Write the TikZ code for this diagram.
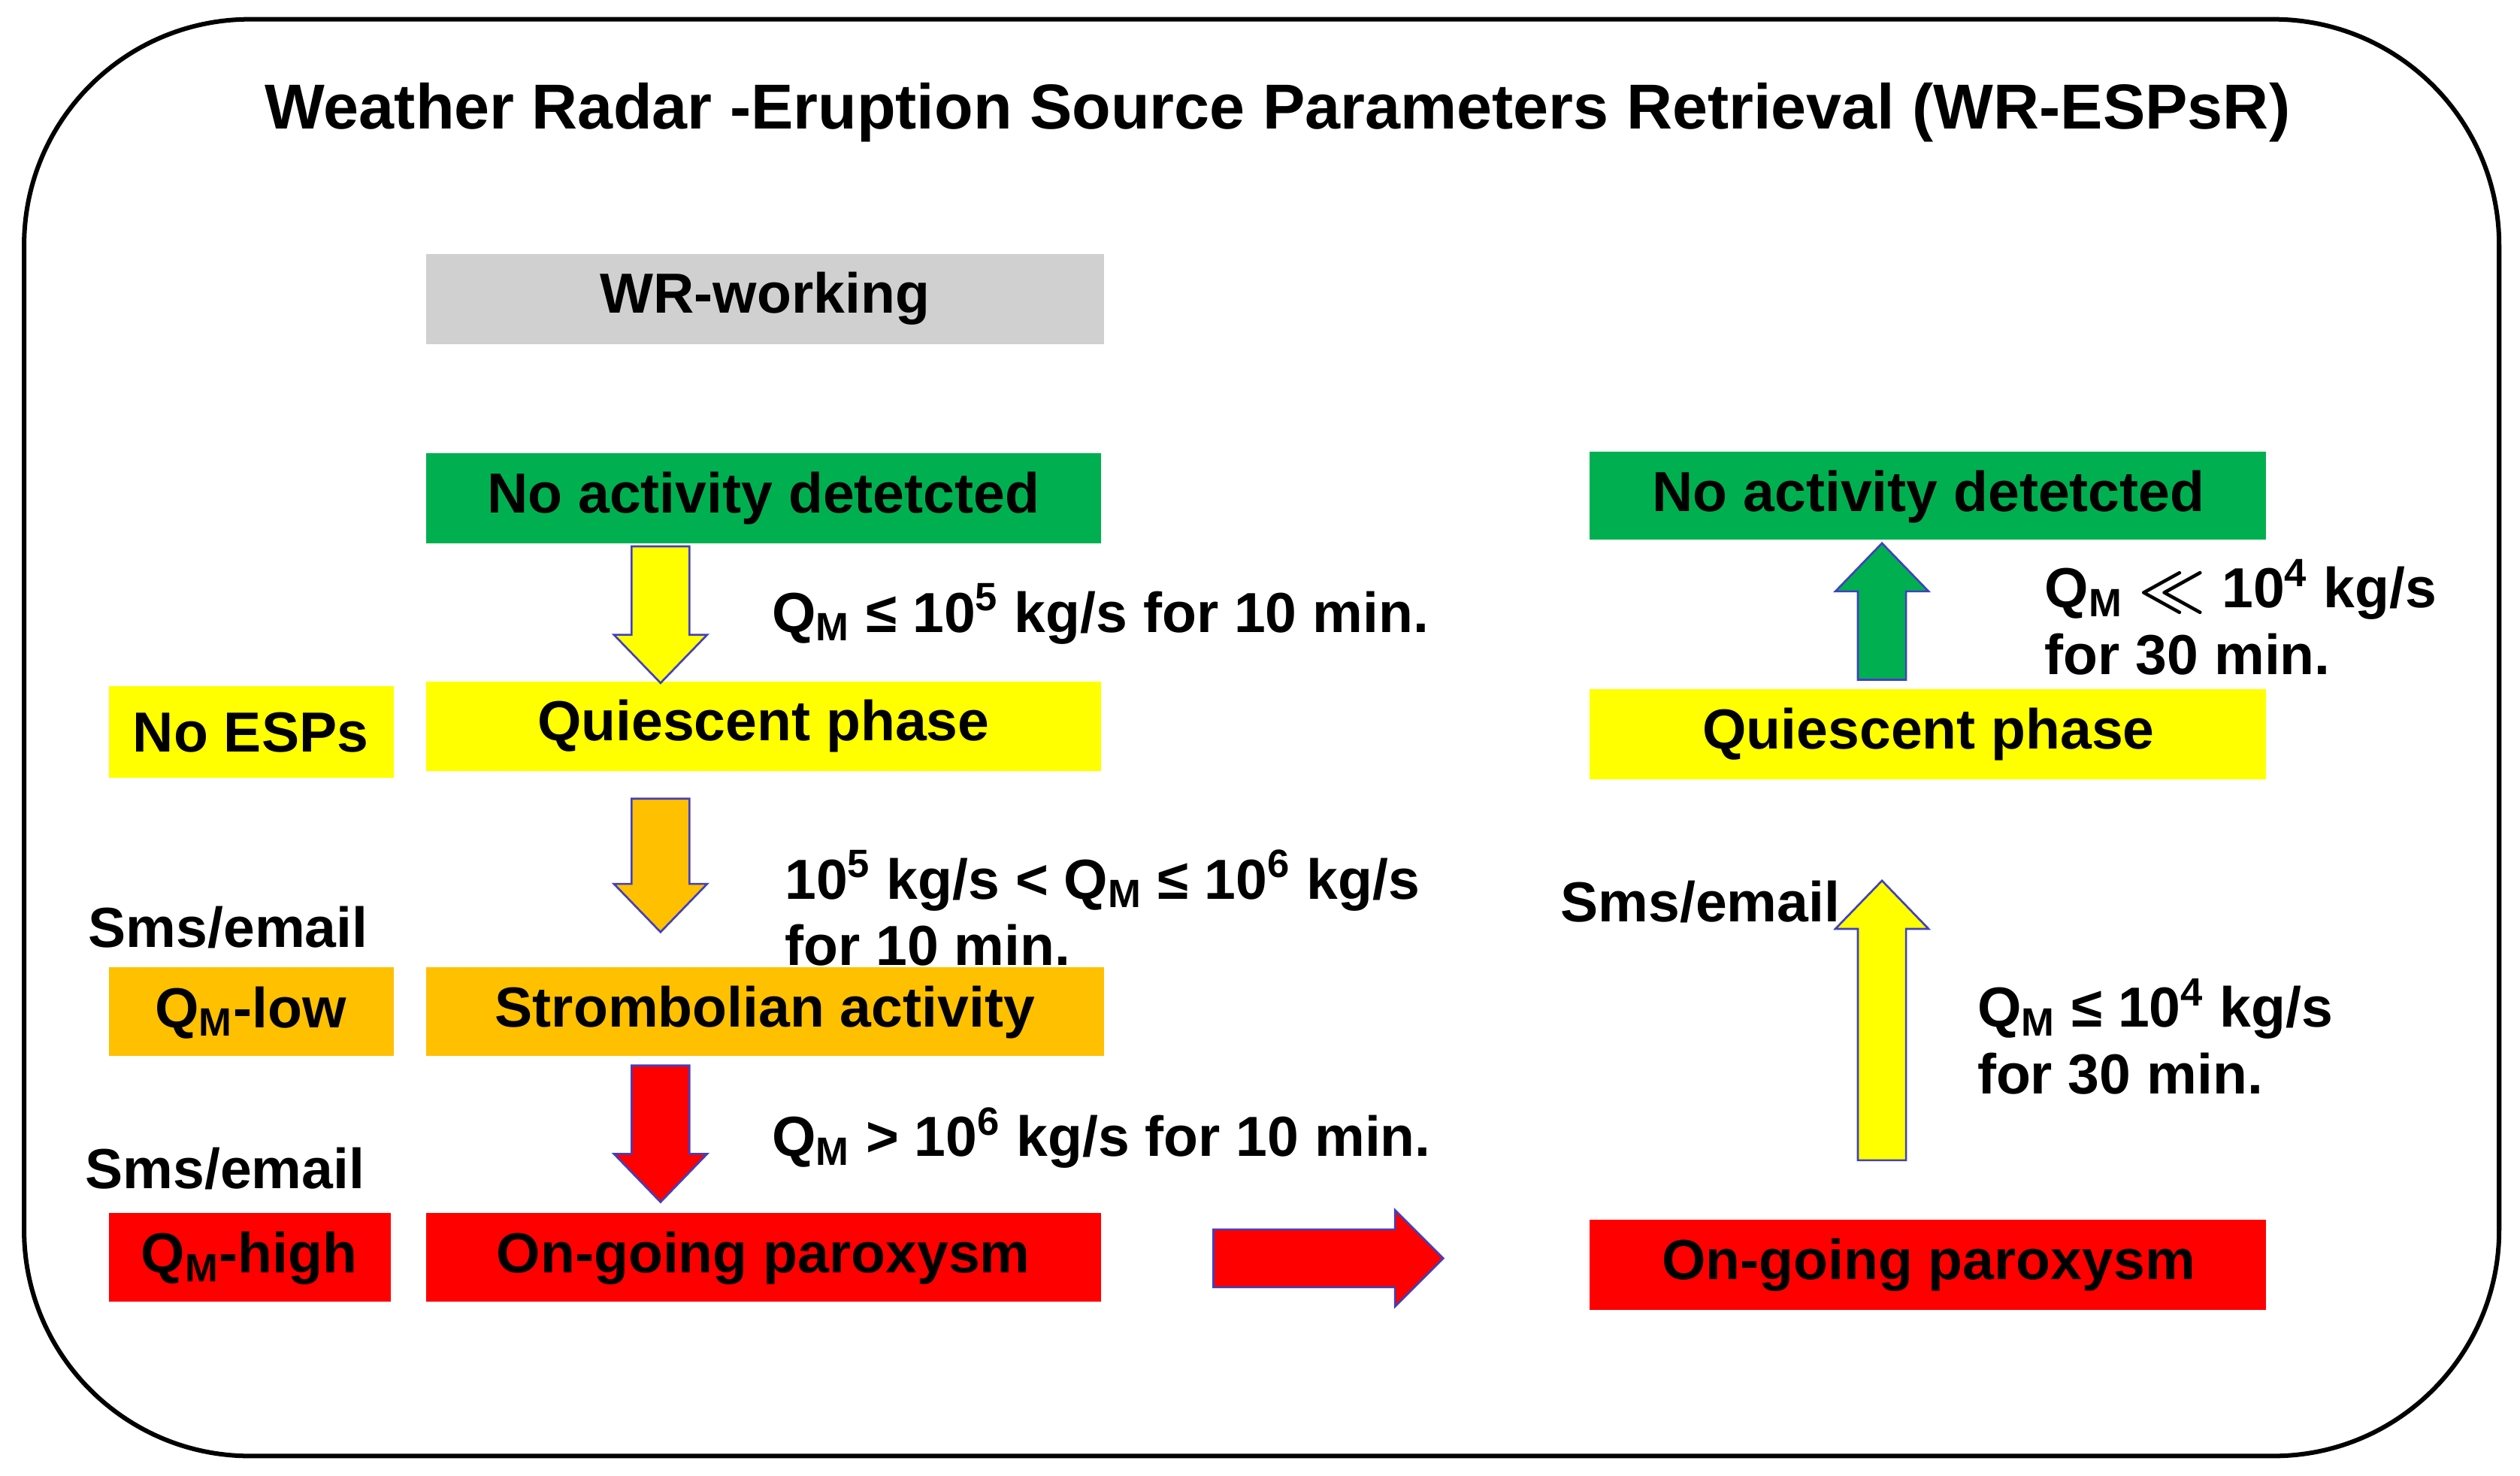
\documentclass[tikz,border=0pt]{standalone}
\usepackage{amsmath}
\usepackage{fontspec}
\setmainfont{Liberation Sans}
\begin{document}
\begin{tikzpicture}[x=0.02cm,y=-0.02cm,
 box/.style={draw=none,inner sep=0,font=\fontsize{20}{23}\selectfont\bfseries},
 lab/.style={anchor=west,align=left,inner sep=0,font=\fontsize{20}{23.5}\selectfont\bfseries},
 arr/.style={draw=blue!50!gray,line width=0.7pt}]
\definecolor{gr}{HTML}{00B050}\definecolor{ye}{HTML}{FFFF00}
\definecolor{or}{HTML}{FFC000}\definecolor{re}{HTML}{FF0000}\definecolor{gy}{HTML}{D0D0D0}
\useasboundingbox (0,0) rectangle (1568,918);
\draw[line width=1.6pt,rounded corners=80] (15,12) rectangle (1555,906);
\node[font=\fontsize{22.5}{26}\selectfont\bfseries] (title) at (795,70) {Weather Radar -Eruption Source Parameters Retrieval (WR-ESPsR)};
\fill[gy] (265,158) rectangle (687,214); \node[box] (wr) at (476,186) {WR-working};
\fill[gr] (265,282) rectangle (685,338); \node[box] (na1) at (475,310) {No activity detetcted};
\fill[ye] (265,424) rectangle (685,480); \node[box] (q1) at (475,452) {Quiescent phase};
\fill[ye] (68,427) rectangle (245,484); \node[box] (ne) at (156,456) {No ESPs};
\fill[or] (265,602) rectangle (687,657); \node[box] (st) at (476,630) {Strombolian activity};
\fill[or] (68,602) rectangle (245,657); \node[box] (ql) at (156,630) {Q\textsubscript{M}-low};
\fill[re] (265,755) rectangle (685,810); \node[box] (og1) at (475,783) {On-going paroxysm};
\fill[re] (68,755) rectangle (243,810); \node[box] (qh) at (155,783) {Q\textsubscript{M}-high};
\fill[gr] (989,281) rectangle (1410,336); \node[box] (na2) at (1200,309) {No activity detetcted};
\fill[ye] (989,429) rectangle (1410,485); \node[box] (q2) at (1200,457) {Quiescent phase};
\fill[re] (989,759) rectangle (1410,815); \node[box] (og2) at (1200,787) {On-going paroxysm};
\newcommand\darr[4]{\filldraw[arr,fill=#1] (#2-18,#3) -- (#2+18,#3) -- (#2+18,#4-30) -- (#2+29,#4-30) -- (#2,#4) -- (#2-29,#4-30) -- (#2-18,#4-30) -- cycle;}
\darr{ye}{411}{340}{425}
\darr{or}{411}{497}{580}
\darr{re}{411}{663}{748}
\newcommand\uarr[4]{\filldraw[arr,fill=#1] (#2-15,#3) -- (#2+15,#3) -- (#2+15,#4+30) -- (#2+29,#4+30) -- (#2,#4) -- (#2-29,#4+30) -- (#2-15,#4+30) -- cycle;}
\uarr{gr}{1171}{423}{338}
\uarr{ye}{1171}{722}{548}
\filldraw[arr,fill=re] (755,765) -- (868,765) -- (868,753) -- (898,783) -- (868,813) -- (868,801) -- (755,801) -- cycle;
\node[lab] (l1) at (480,382) {Q\textsubscript{M} ≤ 10\textsuperscript{5} kg/s for 10 min.};
\node[lab] (l2) at (488,565) {10\textsuperscript{5} kg/s < Q\textsubscript{M} ≤ 10\textsuperscript{6} kg/s\\for 10 min.};
\node[lab] (l3) at (480,708) {Q\textsubscript{M} > 10\textsuperscript{6} kg/s for 10 min.};
\node[lab] (l4) at (1272,384) {Q\textsubscript{M} $\boldsymbol{\ll}$ 10\textsuperscript{4} kg/s\\for 30 min.};
\node[lab] (l5) at (1230,645) {Q\textsubscript{M} ≤ 10\textsuperscript{4} kg/s\\for 30 min.};
\node[box] (s1) at (142,577) {Sms/email};
\node[box] (s2) at (140,727) {Sms/email};
\node[box] (s3) at (1058,561) {Sms/email};
\end{tikzpicture}
\end{document}
